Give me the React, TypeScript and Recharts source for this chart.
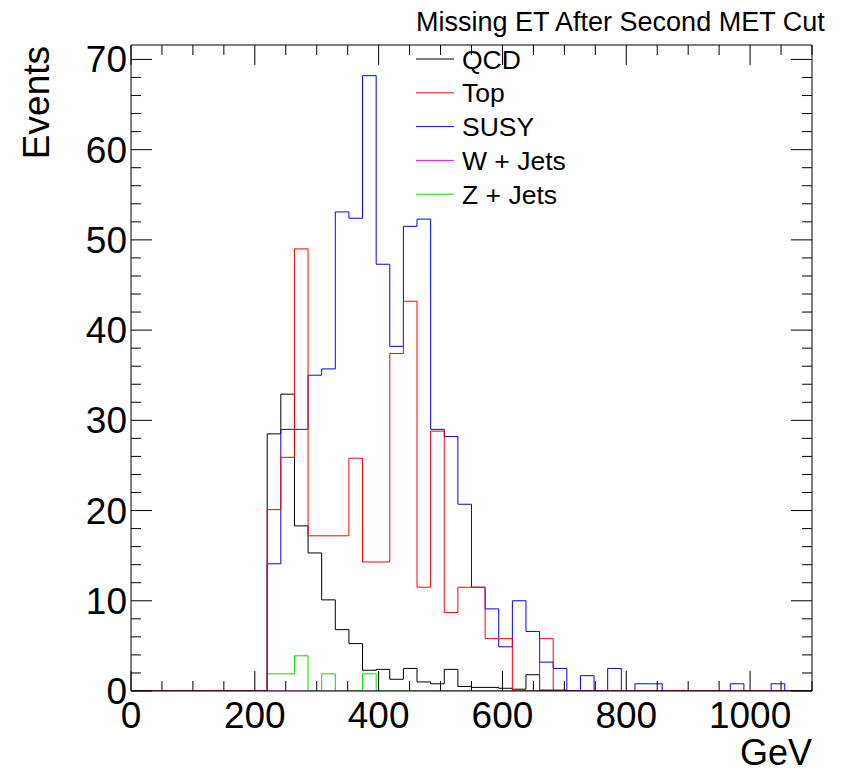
import { Legend, Line, LineChart, XAxis, YAxis } from "recharts";

const FONT = "'Liberation Sans', Arial, Helvetica, sans-serif";

// 50 bins of 22 GeV, 0 - 1100 GeV
const binWidth = 22;

const qcd = [
  0, 0, 0, 0, 0, 0, 0, 0, 0, 0,
  28.5, 32.9, 18.3, 15.3, 10.1, 6.8, 5.25, 2.3, 2.4, 1.3,
  2.5, 1.0, 0.8, 2.4, 0.5, 0.4, 0.4, 0.3, 0.2, 1.8,
  0.1, 0.1, 0, 0, 0, 0, 0, 0, 0, 0,
  0, 0, 0, 0, 0, 0, 0, 0, 0, 0,
];

const top = [
  0, 0, 0, 0, 0, 0, 0, 0, 0, 0,
  20.1, 25.9, 49.0, 17.2, 17.2, 17.2, 25.8, 14.3, 14.3, 37.4,
  43.2, 11.5, 28.8, 8.7, 11.5, 11.5, 5.8, 5.8, 0, 0,
  5.8, 0, 0, 0, 0, 0, 0, 0, 0, 0,
  0, 0, 0, 0, 0, 0, 0, 0, 0, 0,
];

const susy = [
  0, 0, 0, 0, 0, 0, 0, 0, 0, 0,
  14.1, 29.0, 29.0, 35.0, 35.7, 53.1, 52.4, 68.2, 47.3, 38.2,
  51.5, 52.3, 29.0, 28.2, 20.7, 11.5, 9.1, 4.9, 10.0, 6.6,
  3.2, 2.5, 0, 1.7, 0, 2.5, 0, 0.8, 0.8, 0,
  0, 0, 0, 0, 0.8, 0, 0, 0.8, 0, 0,
];

const wJets = [
  0, 0, 0, 0, 0, 0, 0, 0, 0, 0,
  0, 0, 0, 0, 0, 0, 0, 0, 0, 0,
  0, 0, 0, 0, 0, 0, 0, 0, 0, 0,
  0, 0, 0, 0, 0, 0, 0, 0, 0, 0,
  0, 0, 0, 0, 0, 0, 0, 0, 0, 0,
];

const zJets = [
  0, 0, 0, 0, 0, 0, 0, 0, 0, 0,
  1.9, 1.9, 3.9, 0, 1.9, 0, 0, 1.9, 0, 0,
  0, 0, 0, 0, 0, 0, 0, 0, 0, 0,
  0, 0, 0, 0, 0, 0, 0, 0, 0, 0,
  0, 0, 0, 0, 0, 0, 0, 0, 0, 0,
];

const xTicks = [
  0, 50, 100, 150, 200, 250, 300, 350, 400, 450, 500, 550,
  600, 650, 700, 750, 800, 850, 900, 950, 1000, 1050, 1100,
];
const yTicks = [
  0, 2, 4, 6, 8, 10, 12, 14, 16, 18, 20, 22, 24, 26, 28, 30, 32, 34,
  36, 38, 40, 42, 44, 46, 48, 50, 52, 54, 56, 58, 60, 62, 64, 66, 68, 70,
];

const legendOrder = ["QCD", "Top", "SUSY", "W + Jets", "Z + Jets"];

// one point per bin edge, last edge repeats the last bin for stepAfter
const data = Array.from({ length: qcd.length + 1 }, (_, i) => {
  const k = Math.min(i, qcd.length - 1);
  return {
    x: i * binWidth,
    qcd: qcd[k],
    top: top[k],
    susy: susy[k],
    wJets: wJets[k],
    zJets: zJets[k],
  };
});

function BottomTick({ x, y, payload }: any) {
  const v = payload.value;
  const major = v % 200 === 0;
  return (
    <g>
      <line x1={x} y1={y} x2={x} y2={y - (major ? 20 : 10)} stroke="#000" />
      {major && v <= 1000 && (
        <text x={x} y={y + 37} textAnchor="middle" fontSize={37} fontFamily={FONT} fill="#000">
          {v}
        </text>
      )}
    </g>
  );
}

function TopTick({ x, y, payload }: any) {
  const major = payload.value % 200 === 0;
  return <line x1={x} y1={y} x2={x} y2={y + (major ? 20 : 10)} stroke="#000" />;
}

function LeftTick({ x, y, payload }: any) {
  const v = payload.value;
  const major = v % 10 === 0;
  return (
    <g>
      <line x1={x} y1={y} x2={x + (major ? 21 : 10)} y2={y} stroke="#000" />
      {major && (
        <text x={x - 4} y={y + 13} textAnchor="end" fontSize={37} fontFamily={FONT} fill="#000">
          {v}
        </text>
      )}
    </g>
  );
}

function RightTick({ x, y, payload }: any) {
  const major = payload.value % 10 === 0;
  return <line x1={x} y1={y} x2={x - (major ? 21 : 10)} y2={y} stroke="#000" />;
}

function renderLegend(props: any) {
  const items = [...(props.payload ?? [])].sort(
    (a: any, b: any) => legendOrder.indexOf(a.value) - legendOrder.indexOf(b.value),
  );
  return (
    <svg width={200} height={175} style={{ display: "block" }}>
      {items.map((item: any, i: number) => {
        const cy = 17 + i * 33.8;
        return (
          <g key={item.value}>
            <line x1={0} x2={38} y1={cy} y2={cy} stroke={item.color} strokeWidth={1} />
            <text x={46} y={cy + 9.5} fontSize={26.5} fontFamily={FONT} fill="#000">
              {item.value}
            </text>
          </g>
        );
      })}
    </svg>
  );
}

export default function App() {
  return (
    <div style={{ position: "absolute", left: 0, top: 0, background: "#fff" }}>
      <LineChart
        width={841}
        height={773}
        data={data}
        margin={{ top: 44, right: 28, bottom: 81, left: 130 }}
      >
        <XAxis
          xAxisId="b"
          dataKey="x"
          type="number"
          domain={[0, 1100]}
          ticks={xTicks}
          interval={0}
          height={1}
          tickSize={0}
          tickMargin={0}
          tickLine={false}
          axisLine={{ stroke: "#000" }}
          tick={<BottomTick />}
          label={() => (
            <text x={812} y={765} textAnchor="end" fontSize={36} fontFamily={FONT} fill="#000">
              GeV
            </text>
          )}
        />
        <XAxis
          xAxisId="t"
          orientation="top"
          dataKey="x"
          type="number"
          domain={[0, 1100]}
          ticks={xTicks}
          interval={0}
          height={1}
          tickSize={0}
          tickMargin={0}
          tickLine={false}
          axisLine={{ stroke: "#000" }}
          tick={<TopTick />}
          label={() => (
            <text x={416} y={31} textAnchor="start" fontSize={27} fontFamily={FONT} fill="#000">
              Missing ET After Second MET Cut
            </text>
          )}
        />
        <YAxis
          yAxisId="l"
          type="number"
          domain={[0, 71.6]}
          allowDataOverflow
          ticks={yTicks}
          interval={0}
          width={1}
          tickSize={0}
          tickMargin={0}
          tickLine={false}
          axisLine={{ stroke: "#000" }}
          tick={<LeftTick />}
          label={() => (
            <text
              x={49}
              y={46}
              transform="rotate(-90, 49, 46)"
              textAnchor="end"
              fontSize={37}
              fontFamily={FONT}
              fill="#000"
            >
              Events
            </text>
          )}
        />
        <YAxis
          yAxisId="r"
          orientation="right"
          type="number"
          domain={[0, 71.6]}
          allowDataOverflow
          ticks={yTicks}
          interval={0}
          width={1}
          tickSize={0}
          tickMargin={0}
          tickLine={false}
          axisLine={{ stroke: "#000" }}
          tick={<RightTick />}
        />
        <Legend
          layout="vertical"
          align="center"
          verticalAlign="middle"
          content={renderLegend}
          wrapperStyle={{ left: 416, top: 42, width: 200, height: 175 }}
        />
        <Line
          xAxisId="b"
          yAxisId="l"
          type="stepAfter"
          dataKey="wJets"
          name="W + Jets"
          stroke="#ff00ff"
          strokeWidth={1}
          dot={false}
          activeDot={false}
          isAnimationActive={false}
        />
        <Line
          xAxisId="b"
          yAxisId="l"
          type="stepAfter"
          dataKey="zJets"
          name="Z + Jets"
          stroke="#00e000"
          strokeWidth={1}
          dot={false}
          activeDot={false}
          isAnimationActive={false}
        />
        <Line
          xAxisId="b"
          yAxisId="l"
          type="stepAfter"
          dataKey="qcd"
          name="QCD"
          stroke="#000000"
          strokeWidth={1}
          dot={false}
          activeDot={false}
          isAnimationActive={false}
        />
        <Line
          xAxisId="b"
          yAxisId="l"
          type="stepAfter"
          dataKey="susy"
          name="SUSY"
          stroke="#0000ff"
          strokeWidth={1}
          dot={false}
          activeDot={false}
          isAnimationActive={false}
        />
        <Line
          xAxisId="b"
          yAxisId="l"
          type="stepAfter"
          dataKey="top"
          name="Top"
          stroke="#ff0000"
          strokeWidth={1}
          dot={false}
          activeDot={false}
          isAnimationActive={false}
        />
      </LineChart>
    </div>
  );
}
